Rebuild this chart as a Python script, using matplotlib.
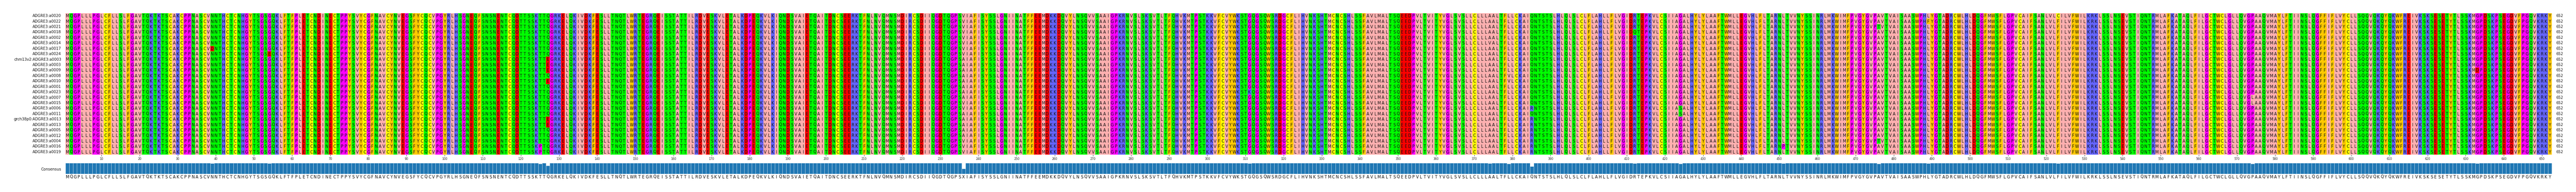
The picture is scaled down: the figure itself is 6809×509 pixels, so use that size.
import numpy as np
import matplotlib
matplotlib.use('Agg')
import matplotlib.pyplot as plt
from matplotlib.colors import ListedColormap

plt.rcParams['font.family'] = 'DejaVu Sans'

names = ['ADGRE3:a0020', 'ADGRE3:a0022', 'ADGRE3:a0021', 'ADGRE3:a0018', 'ADGRE3:a0002',
         'ADGRE3:a0014', 'ADGRE3:a0017', 'ADGRE3:a0024', 'chm13v2:ADGRE3:a0003', 'ADGRE3:a0003',
         'ADGRE3:a0009', 'ADGRE3:a0008', 'ADGRE3:a0010', 'ADGRE3:a0001', 'ADGRE3:a0023',
         'ADGRE3:a0007', 'ADGRE3:a0015', 'ADGRE3:a0006', 'ADGRE3:a0011', 'grch38p0:ADGRE3:a0013',
         'ADGRE3:a0013', 'ADGRE3:a0005', 'ADGRE3:a0012', 'ADGRE3:a0004', 'ADGRE3:a0016',
         'ADGRE3:a0019']

base_seq = ('MQGPLLLPGLCFLLSLFGAVTQKTKTSCAKCPPNASCVNNTHCTCNHGYTSGSGQKLFTFPLETCNDINECTPPYSVYCGFNAVCYNVEGSFYCQCVPGYRLHSGNEQF'
            'SNSNENTCQDTTSSKTTQGRKELQKIVDKFESLLTNQTLWRTEGRQEISSTATTILRDVESKVLETALKDPEQKVLKIQNDSVAIETQAITDNCSEERKTFNLNVQMNS'
            'MDIRCSDIIQGDTQGPSVIAFISYSSLGNIINATFFEEMDKKDQVYLNSQVVSAAIGPKRNVSLSKSVTLTFQHVKMTPSTKKVFCVYWKSTGQGSQWSRDGCFLIHVN'
            'KSHTMCNCSHLSSFAVLMALTSQEEDPVLTVITYVGLSVSLLCLLLAALTFLLCKAIQNTSTSLHLQLSLCLFLAHLLFLVGIDRTEPKVLCSIIAGALHYLYLAAFTW'
            'MLLEGVHLFLTARNLTVVNYSSINRLMKWIMFPVGYGVPAVTVAISAASWPHLYGTADRCWLHLDQGFMWSFLGPVCAIFSANLVLFILVFWILKRKLSSLNSEVSTIQ'
            'NTRMLAFKATAQLFILGCTWCLGLLQVGPAAQVMAYLFTIINSLQGFFIFLVYCLLSQQVQKQYQKWFREIVKSKSESETYTLSSKMGPDSKPSEGDVFPGQVKRKY')
assert len(base_seq) == 652, len(base_seq)

# position (1-based), residue, rows that carry it
variants = [
    (39, 'D', [6]),
    (54, 'E', [7]),
    (125, 'P', [24, 25]),
    (127, 'E', [8, 9, 10, 12, 19, 20]),
    (236, 'A', [8, 9, 10, 11, 12, 13, 14, 15, 18, 19, 20, 21, 22]),
    (311, 'K', [14]),
    (374, 'V', [5]),
    (379, 'V', [11, 12]),
    (385, 'R', [17, 19, 20, 21, 22, 23, 24, 25]),
    (412, 'Q', [3]),
    (424, 'S', [17, 18]),
    (451, 'P', [24]),
    (476, 'T', [2, 23]),
    (489, 'F', [1]),
    (523, 'C', [0]),
    (574, 'L', [15, 16]),
    (633, 'D', [10]),
]

# Zappo colours
groups = [('AVMILX', '#FFAFAF'), ('FWY', '#FFC800'), ('C', '#FFFF00'), ('STNQ', '#00FF00'),
          ('GP', '#FF00FF'), ('KRH', '#6464FF'), ('DE', '#FF0000')]

rows = [list(base_seq) for _ in names]
for pos, aa, idx in variants:
    for r in idx:
        rows[r][pos - 1] = aa
rows = np.array(rows)
n_rows, n_cols = rows.shape

# consensus and identity per column, a tie gives X
consensus = []
identity = []
for c in range(n_cols):
    vals, counts = np.unique(rows[:, c], return_counts=True)
    top = counts.max()
    consensus.append(vals[counts.argmax()] if (counts == top).sum() == 1 else 'X')
    identity.append(100 * top / n_rows)

palette = [g[1] for g in groups]
lookup = {aa: i for i, g in enumerate(groups) for aa in g[0]}
cell_idx = np.vectorize(lookup.get)(rows)

W, H = 6810, 510
fig = plt.figure(figsize=(W / 100, H / 100), dpi=100)

x0, x1 = 173, 6745
ax = fig.add_axes([x0 / W, 1 - 411 / H, (x1 - x0) / W, 375 / H])
ax.pcolormesh(np.arange(n_cols + 1), np.arange(n_rows + 1), cell_idx,
              cmap=ListedColormap(palette), vmin=-0.5, vmax=len(palette) - 0.5)
ax.set_xlim(0, n_cols)
ax.set_ylim(n_rows, 0)
for r in range(n_rows):
    for c in range(n_cols):
        # Q's tail pushes it about a pixel low in Agg
        nudge = 0.07 if rows[r, c] == 'Q' else 0
        ax.text(c + 0.5, r + 0.7 - nudge, rows[r, c], ha='center', va='baseline', size=8.5,
                fontstretch='condensed', color='#111111')
    ax.text(-1.1, r + 0.43, names[r], ha='right', va='center', size=7.15, color='#111111')
    ax.text(n_cols + 1.1, r + 0.43, str(n_cols), ha='left', va='center', size=7.15, color='#111111')
for s in ax.spines.values():
    s.set_visible(False)
tick_pos = np.arange(10, n_cols + 1, 10)
ax.set_xticks(tick_pos - 0.57)
ax.set_xticklabels(tick_pos, size=6, fontstretch='condensed', color='#222222')
ax.tick_params(axis='x', length=3.2, width=0.6, pad=1, color='#222222')
ax.set_yticks([])

ax2 = fig.add_axes([x0 / W, 1 - 462 / H, (x1 - x0) / W, 29 / H])
ax2.bar(np.arange(n_cols) + 0.5, identity, width=1, color='#1f77b4', edgecolor='#d5e5f0', linewidth=0.55)
ax2.set_xlim(0, n_cols)
ax2.set_ylim(0, 100)
for s in ax2.spines.values():
    s.set_visible(False)
ax2.set_yticks([])
ax2.set_xticks([])
for c in range(n_cols):
    nudge = 3.4 if consensus[c] == 'Q' else 0
    ax2.text(c + 0.5, -37 + nudge, consensus[c], ha='center', va='baseline', size=8.5,
             fontstretch='condensed', color='#111111', clip_on=False)
ax2.text(-1.1, 46, 'Consensus', ha='right', va='center', size=7.15, color='#111111')

fig.savefig('out.png', dpi=100)
